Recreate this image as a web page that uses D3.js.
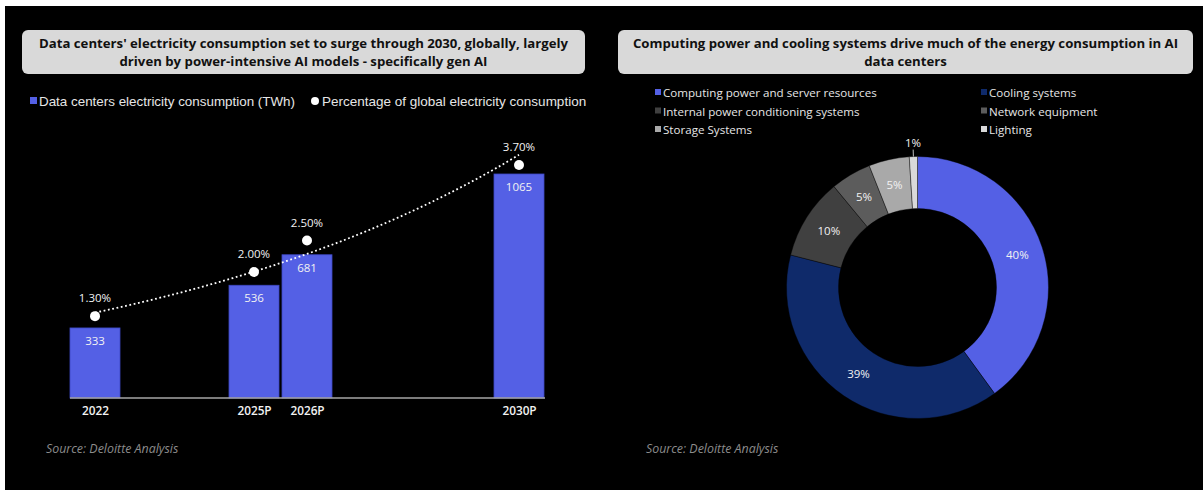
<!DOCTYPE html>
<html>
<head>
<meta charset="utf-8">
<script src="https://cdn.jsdelivr.net/npm/d3@7/dist/d3.min.js"></script>
<style>
	html, body { margin: 0; padding: 0; background: #fff; }
	svg { display: block; }
</style>
</head>
<body>
<div id="chart"></div>
<script>

///////////////////////////////////////////////////////////////////////////
//////////////////////////////// Data /////////////////////////////////////
///////////////////////////////////////////////////////////////////////////

var barCategories = ["2022", "2025P", "2026P", "2030P"];
var barYears = [2022, 2025, 2026, 2030];
var consumptionTWh = [333, 536, 681, 1065];
var globalShare = [1.3, 2.0, 2.5, 3.7];

var donutCategories = ["Computing power and server resources", "Cooling systems",
	"Internal power conditioning systems", "Network equipment", "Storage Systems", "Lighting"];
var donutValues = [40, 39, 10, 5, 5, 1];
var donutColors = ["#5460e5", "#0f2a6a", "#404040", "#5c5c5c", "#a9a9a9", "#d9d9d9"];

var titleLeft = ["Data centers' electricity consumption set to surge through 2030, globally, largely",
	"driven by power-intensive AI models - specifically gen AI"];
var titleRight = ["Computing power and cooling systems drive much of the energy consumption in AI",
	"data centers"];
var sourceText = "Source: Deloitte Analysis";

///////////////////////////////////////////////////////////////////////////
//////////////////////////// SVG container ////////////////////////////////
///////////////////////////////////////////////////////////////////////////

var width = 1203,
	height = 490;

var svg = d3.select("#chart").append("svg")
	.attr("width", width)
	.attr("height", height);

//Black panel with a thin white margin at the top and left
svg.append("rect")
	.attr("x", 5)
	.attr("y", 6)
	.attr("width", width - 5)
	.attr("height", height - 6)
	.style("fill", "#000");

var numFont = "'Open Sans', Lato, sans-serif";
var legFont = "'Liberation Sans', Arial, sans-serif";

//Title boxes
function drawTitle(x, w, lines) {
	svg.append("rect")
		.attr("x", x)
		.attr("y", 30)
		.attr("width", w)
		.attr("height", 44)
		.attr("rx", 6)
		.style("fill", "#d9d9d9");
	svg.append("g").selectAll("text")
		.data(lines)
		.enter().append("text")
		.attr("x", x + w/2)
		.attr("y", function(d,i) { return 48 + i*18; })
		.attr("text-anchor", "middle")
		.style("font-family", numFont)
		.style("font-weight", "bold")
		.style("font-size", "13.2px")
		.style("fill", "#111")
		.text(function(d) { return d; });
}//function drawTitle

drawTitle(22, 563, titleLeft);
drawTitle(618, 575, titleRight);

//Sources
[46, 646].forEach(function(x) {
	svg.append("text")
		.attr("x", x)
		.attr("y", 453)
		.style("font-family", numFont)
		.style("font-style", "italic")
		.style("font-size", "12.4px")
		.style("fill", "#8c8c8c")
		.text(sourceText);
});

///////////////////////////////////////////////////////////////////////////
////////////////////////////// Bar chart //////////////////////////////////
///////////////////////////////////////////////////////////////////////////

var baseline = 398,
	barWidth = 50;

var x = d3.scaleLinear().domain([2022, 2030]).range([95, 519]);
var yBar = d3.scaleLinear().domain([0, 1065]).range([baseline, 174]);
var yPct = d3.scaleLinear().domain([0, 3.7]).range([baseline, 165]);

//Legend
var legLeft = svg.append("g").attr("transform", "translate(0,101)");
legLeft.append("rect")
	.attr("x", 30).attr("y", -4)
	.attr("width", 7).attr("height", 7)
	.style("fill", "#5460e5");
legLeft.append("text")
	.attr("x", 39).attr("y", 4.5)
	.style("font-family", legFont)
	.style("font-size", "13.4px")
	.style("fill", "#e6e6e6")
	.text("Data centers electricity consumption (TWh)");
legLeft.append("circle")
	.attr("cx", 315).attr("cy", 0).attr("r", 4)
	.style("fill", "#fff");
legLeft.append("text")
	.attr("x", 322).attr("y", 4.5)
	.style("font-family", legFont)
	.style("font-size", "13.5px")
	.style("fill", "#e6e6e6")
	.text("Percentage of global electricity consumption");

var bars = svg.append("g");

bars.selectAll(".bar")
	.data(consumptionTWh)
	.enter().append("rect")
	.attr("class", "bar")
	.attr("x", function(d,i) { return x(barYears[i]) - barWidth/2; })
	.attr("y", function(d) { return yBar(d); })
	.attr("width", barWidth)
	.attr("height", function(d) { return baseline - yBar(d); })
	.style("fill", "#5460e5")
	.style("stroke", "#3d48c4")
	.style("stroke-width", 0.8);

bars.selectAll(".bar-label")
	.data(consumptionTWh)
	.enter().append("text")
	.attr("class", "bar-label")
	.attr("x", function(d,i) { return x(barYears[i]); })
	.attr("y", function(d) { return yBar(d) + 17; })
	.attr("text-anchor", "middle")
	.style("font-family", numFont)
	.style("font-size", "11.5px")
	.style("fill", "#f2f2f2")
	.text(function(d) { return d; });

//X axis
var xAxis = d3.axisBottom(x)
	.tickValues(barYears)
	.tickSize(0)
	.tickPadding(9)
	.tickFormat(function(d,i) { return barCategories[i]; });

var axisG = svg.append("g")
	.attr("transform", "translate(0," + baseline + ")")
	.call(xAxis);
axisG.select(".domain").remove();
axisG.append("line")
	.attr("x1", 70).attr("x2", 545)
	.style("stroke", "#a6a6a6")
	.style("stroke-width", 1.3);
axisG.selectAll("text")
	.style("font-family", numFont)
	.style("font-size", "11.8px")
	.style("font-weight", 600)
	.style("fill", "#f2f2f2");

//Exponential trendline fitted to the percentages
var lx = barYears.map(function(d) { return d - barYears[0]; }),
	ly = globalShare.map(function(d) { return Math.log(d); }),
	mx = d3.mean(lx),
	my = d3.mean(ly);
var slope = d3.sum(lx, function(d,i) { return (d - mx)*(ly[i] - my); }) /
	d3.sum(lx, function(d) { return (d - mx)*(d - mx); });
var intercept = my - slope*mx;

var trend = d3.range(barYears[0], barYears[barYears.length-1] + 0.001, 0.1).map(function(t) {
	return [t, Math.exp(intercept + slope*(t - barYears[0]))];
});

svg.append("path")
	.datum(trend)
	.attr("d", d3.line()
		.x(function(d) { return x(d[0]); })
		.y(function(d) { return yPct(d[1]); }))
	.style("fill", "none")
	.style("stroke", "#fff")
	.style("stroke-width", 1.8)
	.style("stroke-dasharray", "1.8,2.6");

svg.selectAll(".pct-dot")
	.data(globalShare)
	.enter().append("circle")
	.attr("class", "pct-dot")
	.attr("cx", function(d,i) { return x(barYears[i]); })
	.attr("cy", function(d) { return yPct(d); })
	.attr("r", 5)
	.style("fill", "#fff");

svg.selectAll(".pct-label")
	.data(globalShare)
	.enter().append("text")
	.attr("class", "pct-label")
	.attr("x", function(d,i) { return x(barYears[i]); })
	.attr("y", function(d) { return yPct(d) - 14; })
	.attr("text-anchor", "middle")
	.style("font-family", numFont)
	.style("font-size", "11.5px")
	.style("fill", "#f2f2f2")
	.text(function(d) { return d3.format(".2f")(d) + "%"; });

///////////////////////////////////////////////////////////////////////////
///////////////////////////// Donut chart /////////////////////////////////
///////////////////////////////////////////////////////////////////////////

//Legend in two columns
var legRight = svg.append("g");
donutCategories.forEach(function(name, i) {
	var lx0 = i % 2 === 0 ? 655 : 981,
		ly0 = 93 + Math.floor(i/2)*18.5;
	legRight.append("rect")
		.attr("x", lx0).attr("y", ly0 - 4)
		.attr("width", 6).attr("height", 6)
		.style("fill", donutColors[i]);
	legRight.append("text")
		.attr("x", lx0 + 8).attr("y", ly0 + 4)
		.style("font-family", numFont)
		.style("font-size", "11.6px")
		.style("fill", "#e6e6e6")
		.text(name);
});

var cx = 917.5,
	cy = 287.5,
	outerR = 131,
	innerR = 79;

var pie = d3.pie().sort(null).value(function(d) { return d; });
var arc = d3.arc().innerRadius(innerR).outerRadius(outerR);
var arcs = pie(donutValues);

var donut = svg.append("g")
	.attr("transform", "translate(" + cx + "," + cy + ")");

donut.selectAll(".slice")
	.data(arcs)
	.enter().append("path")
	.attr("class", "slice")
	.attr("d", arc)
	.style("fill", function(d,i) { return donutColors[i]; })
	.style("stroke", "#000")
	.style("stroke-width", 0.4);

var midR = (innerR + outerR)/2;
donut.selectAll(".slice-label")
	.data(arcs)
	.enter().append("text")
	.attr("class", "slice-label")
	.attr("transform", function(d,i) {
		var a = (d.startAngle + d.endAngle)/2,
			r = i === arcs.length - 1 ? outerR + 14 : midR;
		return "translate(" + (r*Math.sin(a)) + "," + (-r*Math.cos(a)) + ")";
	})
	.attr("dy", "0.35em")
	.attr("text-anchor", "middle")
	.style("font-family", numFont)
	.style("font-size", "11.5px")
	.style("fill", "#f2f2f2")
	.text(function(d) { return d.data + "%"; });

//Leader line for the tiny lighting slice
var last = arcs[arcs.length - 1],
	la = (last.startAngle + last.endAngle)/2;
donut.append("line")
	.attr("x1", outerR*Math.sin(la)).attr("y1", -outerR*Math.cos(la))
	.attr("x2", (outerR + 7)*Math.sin(la)).attr("y2", -(outerR + 7)*Math.cos(la))
	.style("stroke", "#bfbfbf")
	.style("stroke-width", 1);

</script>
</body>
</html>
